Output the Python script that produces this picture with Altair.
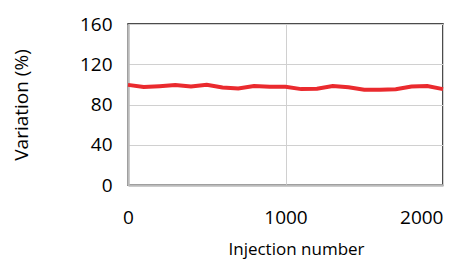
import altair as alt
import pandas as pd

injections = [0, 100, 200, 300, 400, 500, 600, 700, 800, 900, 1000,
              1100, 1200, 1300, 1400, 1500, 1600, 1700, 1800, 1900, 2000]
variation = [99.5, 97.4, 98.2, 99.3, 97.9, 99.6, 96.9, 96.0, 98.4, 97.6, 97.6,
             95.3, 95.6, 98.4, 97.2, 94.7, 94.7, 95.2, 97.9, 98.4, 95.3]

df = pd.DataFrame({"Injection": injections, "Variation": variation})

FONT = "Open Sans"

chart = alt.Chart(df).mark_line(color="#EA2A2E", strokeWidth=4).encode(
    x=alt.X("Injection:Q",
            scale=alt.Scale(domain=[0, 2000], nice=False),
            axis=alt.Axis(values=[0, 1000, 2000], format="d", title="Injection number",
                          labelFontSize=19, titleFontSize=17, labelFont=FONT, titleFont=FONT,
                          labelColor="#000", titleColor="#000", titleFontWeight="normal",
                          labelPadding=23, titlePadding=14, ticks=False,
                          titleX=168,
                          domainColor="#BBBBBB", domainWidth=2.5,
                          gridColor="#D0D0D0", gridWidth=1,
                          labelAlign=alt.ExprRef("datum.value == 2000 ? 'right' : 'center'"))),
    y=alt.Y("Variation:Q",
            scale=alt.Scale(domain=[0, 160], nice=False),
            axis=alt.Axis(values=[0, 40, 80, 120, 160], format="d", title="Variation (%)",
                          labelFontSize=19, titleFontSize=19, labelFont=FONT, titleFont=FONT,
                          labelColor="#000", titleColor="#000", titleFontWeight="normal",
                          labelPadding=16, titlePadding=48, ticks=False,
                          domainColor="#BBBBBB", domainWidth=2.5,
                          gridColor="#D0D0D0", gridWidth=1)),
).properties(
    width=315, height=161,
    autosize=alt.AutoSizeParams(type="none"),
    padding={"left": 120, "top": 16, "right": 8, "bottom": 77},
).configure_view(stroke="#111111", strokeWidth=1.5)

chart.save("out.html", embed_options={"renderer": "svg", "actions": False})
